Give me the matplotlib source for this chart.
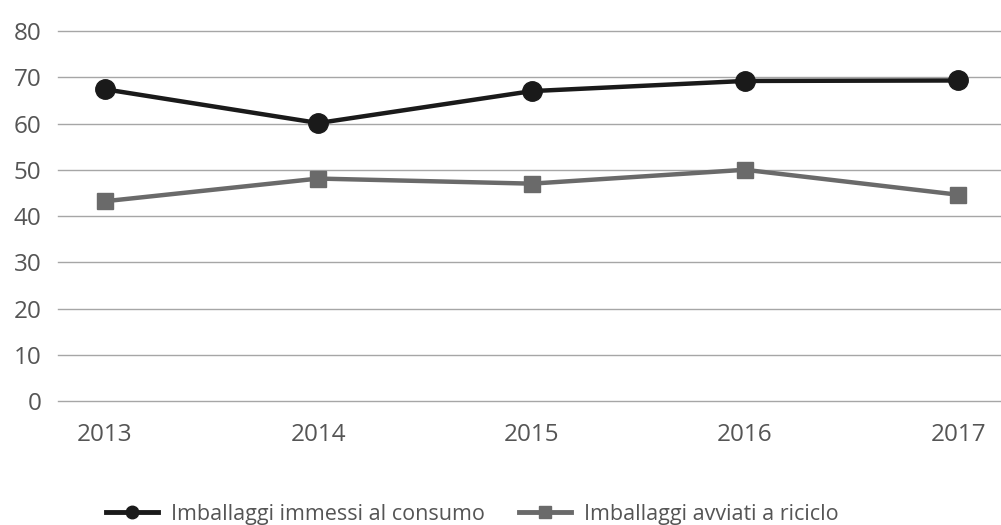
import matplotlib
matplotlib.use("Agg")
import matplotlib.pyplot as plt
from matplotlib.lines import Line2D

years = ["2013", "2014", "2015", "2016", "2017"]
immessi = [67.4, 60.1, 67.0, 69.2, 69.3]
avviati = [43.2, 48.1, 47.0, 50.0, 44.6]
y_ticks = [0, 10, 20, 30, 40, 50, 60, 70, 80]

label_immessi = "Imballaggi immessi al consumo"
label_avviati = "Imballaggi avviati a riciclo"

plt.rcParams["font.family"] = ["Open Sans", "DejaVu Sans"]

fig = plt.figure(figsize=(10.01, 5.25), dpi=100)
ax = fig.add_axes([0.058, 0.236, 0.942, 0.705])

x = list(range(len(years)))
ax.plot(x, immessi, color="#1a1a1a", lw=3.2, marker="o", ms=14,
        solid_joinstyle="round", zorder=4)
ax.plot(x, avviati, color="#6a6a6a", lw=3.2, marker="s", ms=11,
        zorder=3)

ax.set_ylim(0, 80)
ax.set_xlim(-0.22, 4.2)
ax.set_yticks(y_ticks)
ax.set_xticks(x)
ax.set_xticklabels(years)
ax.grid(axis="y", color="#a6a6a6", lw=1.0)
for gl in ax.get_ygridlines():
    gl.set_clip_on(False)
ax.set_axisbelow(True)
for s in ax.spines.values():
    s.set_visible(False)
ax.tick_params(axis="both", length=0, labelsize=17.5, colors="#555555")
ax.tick_params(axis="x", pad=16)
ax.tick_params(axis="y", pad=12)

handles = [
    Line2D([], [], color="#1a1a1a", lw=3.5, marker="o", ms=9),
    Line2D([], [], color="#6a6a6a", lw=3.5, marker="s", ms=9),
]
fig.legend(handles, [label_immessi, label_avviati], loc="center",
           bbox_to_anchor=(0.472, 0.02), ncol=2, frameon=False,
           fontsize=15.5, labelcolor="#555555", handlelength=2.4,
           handletextpad=0.6, columnspacing=1.6)

fig.savefig("out.png", dpi=100)
